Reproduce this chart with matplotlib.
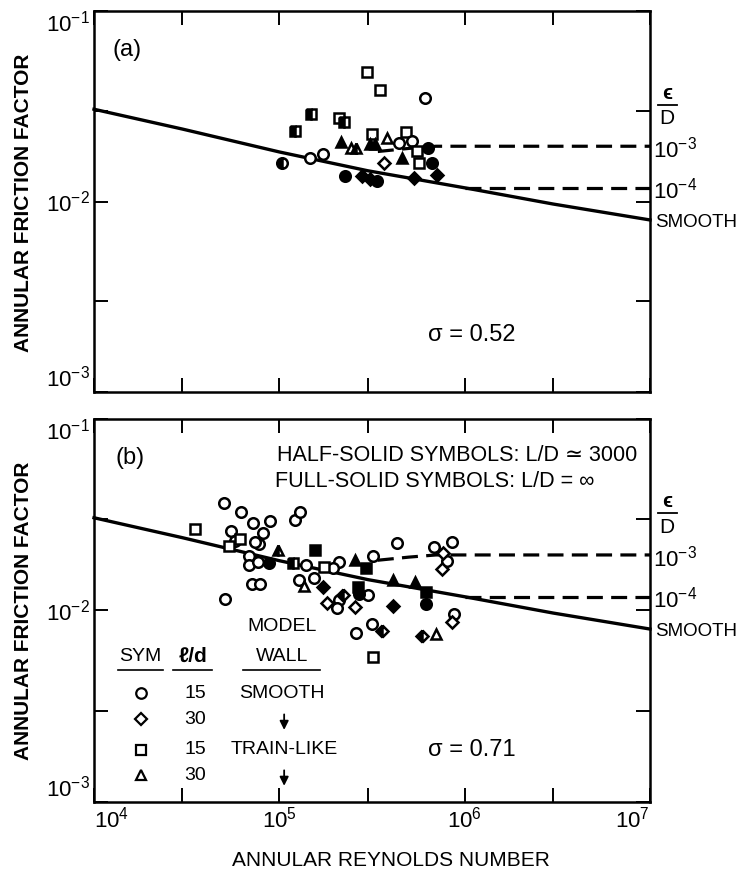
"""Annular friction factor vs annular Reynolds number, two panels."""
import matplotlib

matplotlib.use("Agg")
import matplotlib.pyplot as plt
from matplotlib.ticker import FixedLocator, FixedFormatter, NullLocator
from matplotlib.transforms import blended_transform_factory

plt.rcParams["font.family"] = ["Liberation Sans", "DejaVu Sans"]
plt.rcParams["mathtext.default"] = "regular"

# reference curves
SMOOTH_RE = [1e4, 3e4, 1e5, 3e5, 1e6, 3e6, 1e7]
SMOOTH_F = [0.0305, 0.0240, 0.0182, 0.0145, 0.0118, 0.0097, 0.0080]
ROUGH3_RE = [3.4e5, 5e5, 7e5, 1e7]
ROUGH3_F = [0.0183, 0.0190, 0.0195, 0.0195]
ROUGH4_RE = [1.0e6, 1e7]
ROUGH4_F = [0.0118, 0.0118]

# panel (a) data: sym o=15 smooth, D=30 smooth, s=15 train-like, ^=30 train-like
A_RE = [2.96e5, 3.49e5, 6.1e5, 2.1e5, 3.15e5, 3.8e5, 4.8e5, 4.4e5, 5.2e5, 1.47e5,
        1.73e5, 3.67e5, 5.5e5, 5.7e5, 2.45e5,
        1.48e5, 1.22e5, 2.23e5, 1.03e5, 2.6e5,
        2.15e5, 3.1e5, 3.3e5, 4.6e5, 2.26e5, 2.78e5, 3.1e5, 3.35e5, 5.3e5,
        6.35e5, 6.7e5, 7.1e5]
A_F = [0.048, 0.0383, 0.0351, 0.0273, 0.0225, 0.0216, 0.0233, 0.0204, 0.0208, 0.0170,
       0.0178, 0.0159, 0.0184, 0.0160, 0.0192,
       0.0287, 0.0234, 0.0262, 0.0160, 0.0190,
       0.0205, 0.0200, 0.0200, 0.0170, 0.0136, 0.0136, 0.0131, 0.0128, 0.0133,
       0.0190, 0.0160, 0.0138]
A_SYM = ["s", "s", "o", "s", "s", "^", "s", "o", "o", "o",
         "o", "D", "s", "s", "^",
         "s", "s", "s", "o", "^",
         "^", "^", "^", "^", "o", "D", "D", "o", "D",
         "o", "o", "D"]
A_FILL = ["open"] * 15 + ["half"] * 5 + ["full"] * 12

# panel (b) data
B_RE = [5.03e4, 6.19e4, 7.18e4, 8.91e4, 5.46e4, 8.19e4, 7.8e4, 7.4e4, 5.77e4, 6.89e4,
        6.89e4, 7.7e4, 7.1e4, 7.87e4, 5.1e4, 1.215e5, 1.30e5, 1.39e5, 1.27e5, 1.53e5,
        4.3e5, 8.5e5, 6.84e5, 3.2e5, 2.1e5, 1.95e5, 2.1e5, 2.04e5, 3.02e5, 3.15e5,
        2.6e5, 8.77e5, 8.0e5,
        7.67e5, 7.5e5, 1.8e5, 2.56e5, 8.5e5,
        3.51e4, 5.37e4, 6.1e4, 1.75e5, 3.2e5,
        1.36e5, 7.0e5,
        9.87e4, 3.6e5, 5.9e5, 2.21e5, 1.19e5,
        8.8e4, 1.56e5, 2.94e5, 2.56e5, 2.67e5, 2.7e5, 4.12e5, 5.4e5, 4.1e5, 1.71e5,
        6.2e5, 6.2e5]
B_F = [0.0365, 0.0325, 0.0288, 0.0293, 0.0260, 0.0254, 0.0223, 0.0228, 0.0231, 0.0192,
       0.0172, 0.0179, 0.0138, 0.0138, 0.0115, 0.0297, 0.0325, 0.0172, 0.0144, 0.0148,
       0.0225, 0.0228, 0.0214, 0.0192, 0.0179, 0.0167, 0.0114, 0.0103, 0.0120, 0.00852,
       0.0076, 0.0096, 0.0181,
       0.0199, 0.0165, 0.0109, 0.0104, 0.0087,
       0.0268, 0.0216, 0.0237, 0.0168, 0.0057,
       0.0134, 0.00755,
       0.0206, 0.00786, 0.0074, 0.0120, 0.0177,
       0.0178, 0.0206, 0.0167, 0.0183, 0.0132, 0.0122, 0.0145, 0.0141, 0.0105, 0.0132,
       0.0125, 0.0108]
B_SYM = ["o"] * 33 + ["D"] * 5 + ["s"] * 5 + ["^"] * 2 + ["^", "D", "D", "D", "s"] + \
        ["o", "s", "s", "^", "s", "o", "^", "^", "D", "D", "s", "o"]
B_FILL = ["open"] * 45 + ["half"] * 5 + ["full"] * 12

LEGEND_SYM = ["o", "D", "s", "^"]
LEGEND_LD = ["15", "30", "15", "30"]
X_TICKS = [1e4, 3e4, 1e5, 3e5, 1e6, 3e6, 1e7]
X_LABELS = ["$10^{4}$", "", "$10^{5}$", "", "$10^{6}$", "", "$10^{7}$"]
Y_TICKS = [1e-3, 3e-3, 1e-2, 3e-2, 1e-1]
Y_LABELS = ["$10^{-3}$", "", "$10^{-2}$", "", "$10^{-1}$"]

MS = {"o": 7.6, "D": 6.6, "s": 6.8, "^": 7.8}
FS = 14
TICK_FS = 16


def draw_points(ax, re, f, sym, fill):
    for x, y, m, fl in zip(re, f, sym, fill):
        kw = dict(marker=m, ms=MS[m], mew=1.8, mec="black", linestyle="none", zorder=4)
        if fl == "open":
            kw.update(mfc="white")
        elif fl == "full":
            kw.update(mfc="black")
        else:
            kw.update(mfc="black", fillstyle="left", markerfacecoloralt="white")
        ax.plot([x], [y], **kw)


def style(ax, xlabels):
    ax.set_xscale("log")
    ax.set_yscale("log")
    ax.set_xlim(1e4, 1e7)
    ax.set_ylim(1e-3, 1e-1)
    ax.xaxis.set_major_locator(FixedLocator(X_TICKS))
    ax.xaxis.set_minor_locator(NullLocator())
    ax.yaxis.set_major_locator(FixedLocator(Y_TICKS))
    ax.yaxis.set_minor_locator(NullLocator())
    ax.yaxis.set_major_formatter(FixedFormatter(Y_LABELS))
    ax.xaxis.set_major_formatter(FixedFormatter(X_LABELS if xlabels else [""] * 7))
    ax.tick_params(direction="in", length=10, width=1.4, top=True, right=True,
                   labelsize=TICK_FS, pad=3)
    for s in ax.spines.values():
        s.set_linewidth(1.8)
    for i, lab in enumerate(ax.get_yticklabels()):
        if i == 0:
            lab.set_verticalalignment("bottom")
        elif i == len(Y_TICKS) - 1:
            lab.set_verticalalignment("top")
    if xlabels:
        labs = ax.get_xticklabels()
        labs[0].set_horizontalalignment("left")
        labs[-1].set_horizontalalignment("right")


def curves(ax):
    ax.plot(SMOOTH_RE, SMOOTH_F, color="black", lw=2.4, zorder=3, clip_on=False)
    ax.plot(ROUGH3_RE, ROUGH3_F, color="black", lw=2.3, dashes=(5, 2.6), zorder=3)
    ax.plot(ROUGH4_RE, ROUGH4_F, color="black", lw=2.3, dashes=(5, 2.6), zorder=3)
    tr = blended_transform_factory(ax.transAxes, ax.transData)
    ax.text(1.031, 0.037, "ϵ", transform=tr, ha="center", va="center", fontsize=FS + 1,
            fontweight="bold")
    ax.plot([1.014, 1.048], [0.0322, 0.0322], transform=tr, color="black", lw=1.3,
            clip_on=False)
    ax.text(1.031, 0.0272, "D", transform=tr, ha="center", va="center", fontsize=FS + 1)
    ax.annotate("$10^{-3}$", xy=(1, ROUGH3_F[-1]), xycoords=tr, xytext=(2, -8),
                textcoords="offset points", va="baseline", ha="left", fontsize=TICK_FS)
    ax.annotate("$10^{-4}$", xy=(1, ROUGH4_F[-1]), xycoords=tr, xytext=(2, -8),
                textcoords="offset points", va="baseline", ha="left", fontsize=TICK_FS)
    ax.annotate("SMOOTH", xy=(1, SMOOTH_F[-1]), xycoords=tr, xytext=(4, -2),
                textcoords="offset points", va="center", ha="left", fontsize=13.5)


fig = plt.figure(figsize=(7.43, 8.82), dpi=100)
ax_a = fig.add_axes([94 / 743, 1 - 392 / 882, 556 / 743, 381 / 882])
ax_b = fig.add_axes([94 / 743, 1 - 802 / 882, 556 / 743, 383 / 882])

style(ax_a, False)
style(ax_b, True)
curves(ax_a)
curves(ax_b)
draw_points(ax_a, A_RE, A_F, A_SYM, A_FILL)
draw_points(ax_b, B_RE, B_F, B_SYM, B_FILL)

ax_a.text(0.059, 0.898, "(a)", transform=ax_a.transAxes, ha="center", va="center", fontsize=17)
ax_b.text(0.065, 0.898, "(b)", transform=ax_b.transAxes, ha="center", va="center", fontsize=17)
ax_a.text(0.6, 0.15, "σ = 0.52", transform=ax_a.transAxes, ha="left", va="center",
          fontsize=17)
ax_b.text(0.6, 0.136, "σ = 0.71", transform=ax_b.transAxes, ha="left", va="center",
          fontsize=17)
ax_b.text(0.329, 0.906, "HALF-SOLID SYMBOLS: L/D ≃ 3000", transform=ax_b.transAxes,
          ha="left", va="center", fontsize=15.5)
ax_b.text(0.326, 0.838, "FULL-SOLID SYMBOLS: L/D = ∞", transform=ax_b.transAxes,
          ha="left", va="center", fontsize=15.5)

# legend block in panel (b)
ax_b.text(0.338, 0.458, "MODEL", transform=ax_b.transAxes, ha="center", va="center", fontsize=FS)
ax_b.text(0.083, 0.379, "SYM", transform=ax_b.transAxes, ha="center", va="center", fontsize=FS)
ax_b.text(0.178, 0.379, "ℓ/d", transform=ax_b.transAxes, ha="center", va="center", fontsize=FS + 1,
          fontweight="bold")
ax_b.text(0.338, 0.379, "WALL", transform=ax_b.transAxes, ha="center", va="center", fontsize=FS)
for x0, x1 in [(0.043, 0.124), (0.142, 0.212), (0.268, 0.406)]:
    ax_b.plot([x0, x1], [0.345, 0.345], transform=ax_b.transAxes, color="black", lw=1.2)
rows = [0.284, 0.216, 0.136, 0.070]
for y, m, ld in zip(rows, LEGEND_SYM, LEGEND_LD):
    ax_b.plot([0.0845], [y], marker=m, ms=MS[m], mew=1.6, mec="black", mfc="white",
              transform=ax_b.transAxes, linestyle="none")
    ax_b.text(0.182, y, ld, transform=ax_b.transAxes, ha="center", va="center", fontsize=FS)
ax_b.text(0.338, rows[0], "SMOOTH", transform=ax_b.transAxes, ha="center", va="center", fontsize=FS)
ax_b.text(0.342, rows[2], "TRAIN-LIKE", transform=ax_b.transAxes, ha="center", va="center", fontsize=FS)
for y in (rows[1], rows[3]):
    ax_b.annotate("", xy=(0.342, y - 0.035), xytext=(0.342, y + 0.02),
                  xycoords="axes fraction",
                  arrowprops=dict(arrowstyle="-|>", lw=1.3, color="black", mutation_scale=13))

fig.text(24 / 743, 1 - 203 / 882, "ANNULAR FRICTION FACTOR", rotation=90, ha="center",
         va="center", fontsize=15, fontweight="bold")
fig.text(24 / 743, 1 - 611 / 882, "ANNULAR FRICTION FACTOR", rotation=90, ha="center",
         va="center", fontsize=15, fontweight="bold")
fig.text(391 / 743, 1 - 860 / 882, "ANNULAR REYNOLDS NUMBER", ha="center", va="center",
         fontsize=15)

fig.savefig("out.png", dpi=100)
